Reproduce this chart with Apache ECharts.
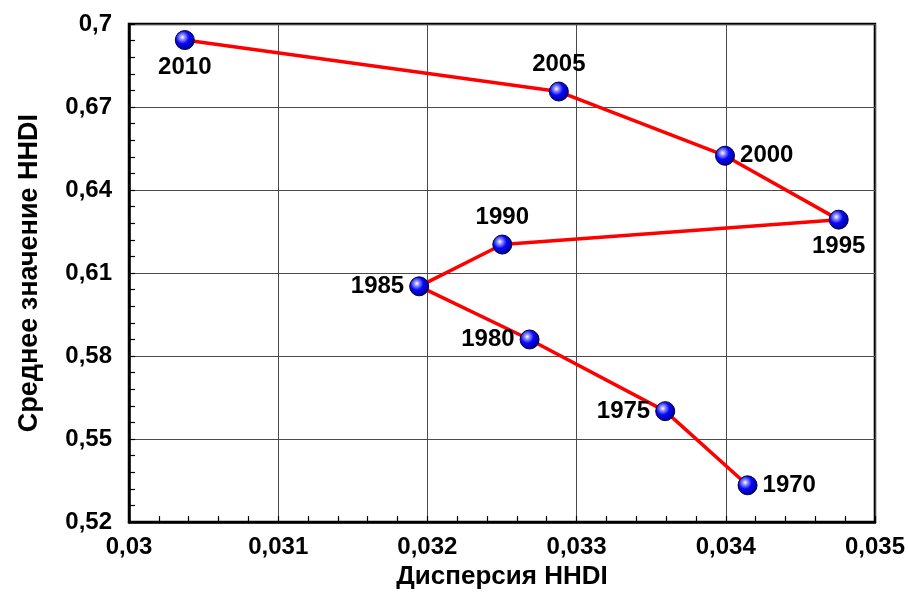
<!DOCTYPE html>
<html>
<head>
<meta charset="utf-8">
<script src="https://cdn.jsdelivr.net/npm/echarts@6/dist/echarts.min.js"></script>
<style>
  html, body { margin: 0; padding: 0; background: #fff; }
  #chart { width: 908px; height: 595px; }
</style>
</head>
<body>
<div id="chart"></div>
<script>
// Years of observation, in path order
const years = ['1970', '1975', '1980', '1985', '1990', '1995', '2000', '2005', '2010'];
// Dispersion of HHDI across regions
const dispersion = [0.034146, 0.033594, 0.032685, 0.031945, 0.032502, 0.034757, 0.033995, 0.032881, 0.030374];
// Mean HHDI value
const meanHHDI = [0.5333, 0.5601, 0.5860, 0.6052, 0.6203, 0.6293, 0.6524, 0.6756, 0.6942];
// Axis tick labels
const xTicks = ['0,03', '0,031', '0,032', '0,033', '0,034', '0,035'];
const yTicks = ['0,52', '0,55', '0,58', '0,61', '0,64', '0,67', '0,7'];

const FONT = "'Liberation Sans', Arial, sans-serif";

// where each year's label sits relative to its marker
const labelPlacement = {
  '1970': 'right', '1975': 'left', '1980': 'left', '1985': 'left',
  '1990': 'top', '1995': 'bottom', '2000': 'right', '2005': 'top', '2010': 'bottom'
};

const points = years.map((y, i) => ({
  name: y,
  value: [dispersion[i], meanHHDI[i]],
  label: { position: labelPlacement[y] }
}));

function tickIndex(v, min, step) { return Math.round((v - min) / step); }

const sphere = {
  type: 'radial', x: 0.38, y: 0.36, r: 0.68,
  colorStops: [
    { offset: 0, color: '#ffffff' },
    { offset: 0.2, color: '#8a8aff' },
    { offset: 0.48, color: '#0808f8' },
    { offset: 0.85, color: '#0000b0' },
    { offset: 1, color: '#000055' }
  ]
};

const chart = echarts.init(document.getElementById('chart'), null, { renderer: 'canvas' });
chart.setOption({
  animation: false,
  backgroundColor: '#ffffff',
  grid: {
    left: 129, right: 31, top: 24, bottom: 72,
    show: true, borderColor: '#000', borderWidth: 2.5, backgroundColor: 'transparent'
  },
  xAxis: {
    type: 'value', min: 0.03, max: 0.035, interval: 0.001,
    name: 'Дисперсия HHDI', nameLocation: 'middle', nameGap: 41,
    nameTextStyle: { fontFamily: FONT, fontWeight: 'bold', fontSize: 26, color: '#000' },
    axisLine: { show: true, lineStyle: { color: '#000', width: 2.5 } },
    axisTick: { show: true, inside: true, length: 6, lineStyle: { color: '#000', width: 1.2 } },
    minorTick: { show: true, splitNumber: 5, length: 6, lineStyle: { color: '#000', width: 1.2 } },
    splitLine: { show: true, lineStyle: { color: '#4a4a4a', width: 1 } },
    axisLabel: {
      margin: 13, fontFamily: FONT, fontWeight: 'bold', fontSize: 24, color: '#000',
      formatter: v => xTicks[tickIndex(v, 0.03, 0.001)]
    }
  },
  yAxis: {
    type: 'value', min: 0.52, max: 0.7, interval: 0.03,
    name: 'Среднее значение HHDI', nameLocation: 'middle', nameGap: 86, nameRotate: 90,
    nameTextStyle: { fontFamily: FONT, fontWeight: 'bold', fontSize: 27, color: '#000' },
    axisLine: { show: true, lineStyle: { color: '#000', width: 2.5 } },
    axisTick: { show: true, inside: true, length: 6, lineStyle: { color: '#000', width: 1.2 } },
    minorTick: { show: true, splitNumber: 5, length: 6, lineStyle: { color: '#000', width: 1.2 } },
    splitLine: { show: true, lineStyle: { color: '#4a4a4a', width: 1 } },
    axisLabel: {
      margin: 17, fontFamily: FONT, fontWeight: 'bold', fontSize: 24, color: '#000',
      formatter: v => yTicks[tickIndex(v, 0.52, 0.03)]
    }
  },
  series: [{
    type: 'line',
    data: points,
    lineStyle: { color: '#ff0000', width: 3.5 },
    symbol: 'circle', symbolSize: 19,
    itemStyle: { color: sphere, borderColor: '#000033', borderWidth: 1 },
    label: {
      show: true, distance: 5,
      fontFamily: FONT, fontWeight: 'bold', fontSize: 24, color: '#000',
      formatter: p => p.name
    },
    z: 3
  }]
});
</script>
</body>
</html>
